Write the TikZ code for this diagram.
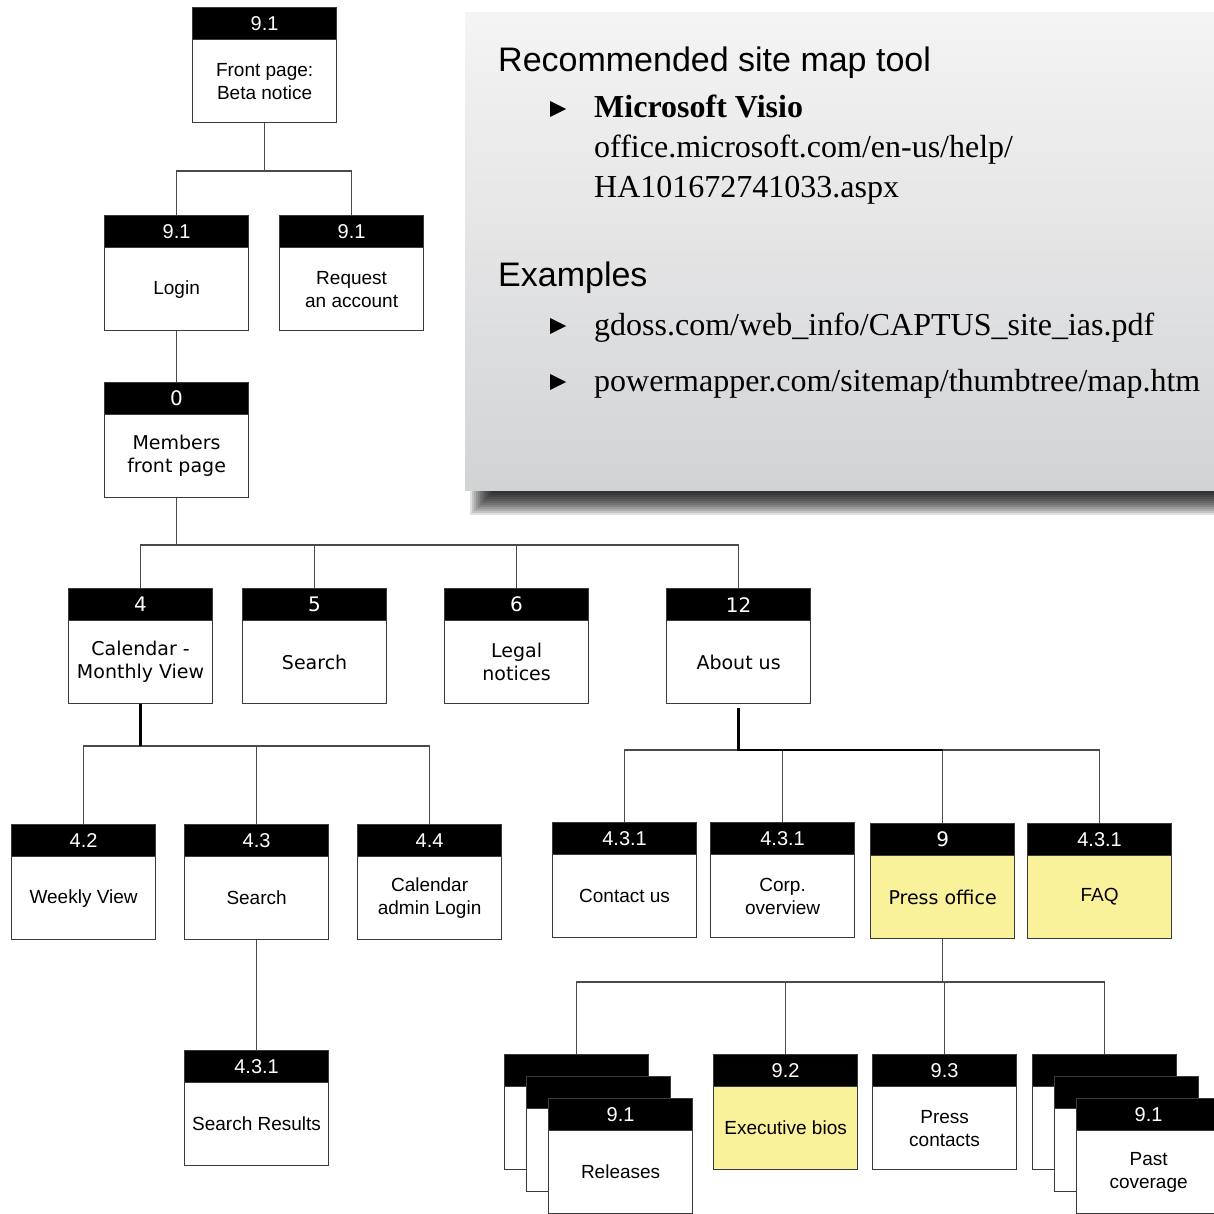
\documentclass[tikz,border=0pt]{standalone}
\usepackage{fontspec}
\setmainfont{Liberation Serif}
\newfontfamily\ari{Liberation Sans}
\newfontfamily\verd{DejaVu Sans}
\definecolor{paleyellow}{HTML}{FAF29B}
\definecolor{boxline}{HTML}{3A3A3A}
\definecolor{connline}{HTML}{4A4A4A}
\definecolor{paneltop}{HTML}{F4F4F4}
\definecolor{panelbot}{HTML}{D2D3D5}
\tikzset{
  pbody/.style={draw=boxline, line width=1.2pt, minimum width=144pt, minimum height=115pt, inner sep=0pt},
  phead/.style={draw=boxline, fill=black, line width=1.2pt, minimum width=144pt, minimum height=32pt, inner sep=0pt, text=white},
  ptext/.style={align=center, inner sep=0pt, text=black},
  conn/.style={draw=connline, line width=1.1pt},
  thickc/.style={draw=black, line width=2.6pt},
  paneltext/.style={anchor=base west, inner sep=0pt},
  bullet/.style={fill=black}
}
% name, x, y, number, text, fill, family
\newcommand{\pgbox}[7]{%
  \node[pbody, fill=#6, anchor=north west] (#1) at (#2,#3) {};
  \node[phead, anchor=north, font=#7\fontsize{20}{24}\selectfont] (#1-h) at (#1.north) {#4};
  \node[ptext, font=#7\fontsize{19}{23}\selectfont] (#1-t) at ([yshift=-16pt]#1.center) {#5};
}
\begin{document}
\begin{tikzpicture}[x=1pt,y=-1pt]
\useasboundingbox (0,0) rectangle (1214,1214);
\clip (0,0) rectangle (1214,1214);
\fill[white] (0,0) rectangle (1214,1214);

% ---------- panel with shadow ----------
\foreach \k in {0,...,11}{
  \fill[black, opacity=0.12] (470+2*\k,30+2*\k) rectangle (1252-2*\k,515-2*\k);
}
\shade[top color=paneltop, bottom color=panelbot] (465,13) rectangle (1240,490);

\node[paneltext, font=\ari\fontsize{34}{40}\selectfont] (h1) at (498,72) {Recommended site map tool};
\fill[bullet] (550,101) -- (550,117) -- (566,109) -- cycle;
\node[paneltext, font=\bfseries\fontsize{32}{40}\selectfont] (v1) at (594,118) {Microsoft Visio};
\node[paneltext, font=\fontsize{32}{40}\selectfont] (v2) at (594,158) {office.microsoft.com/en-us/help/};
\node[paneltext, font=\fontsize{32}{40}\selectfont] (v3) at (594,198) {HA101672741033.aspx};
\node[paneltext, font=\ari\fontsize{34}{40}\selectfont] (h2) at (498,287) {Examples};
\fill[bullet] (550,318) -- (550,334) -- (566,326) -- cycle;
\node[paneltext, font=\fontsize{32}{40}\selectfont] (e1) at (594,335) {gdoss.com/web\_info/CAPTUS\_site\_ias.pdf};
\fill[bullet] (550,374) -- (550,390) -- (566,382) -- cycle;
\node[paneltext, font=\fontsize{32}{40}\selectfont] (e2) at (594,391) {powermapper.com/sitemap/thumbtree/map.htm};

% ---------- boxes ----------
\pgbox{fp}{192}{7}{9.1}{Front page:\\Beta notice}{white}{\ari}
\pgbox{login}{104}{215}{9.1}{Login}{white}{\ari}
\pgbox{req}{279}{215}{9.1}{Request\\an account}{white}{\ari}
\pgbox{mem}{104}{382}{0}{Members\\front page}{white}{\verd}
\pgbox{cal}{68}{588}{4}{Calendar -\\Monthly View}{white}{\verd}
\pgbox{srch}{242}{588}{5}{Search}{white}{\verd}
\pgbox{legal}{444}{588}{6}{Legal\\notices}{white}{\verd}
\pgbox{about}{666}{588}{12}{About us}{white}{\verd}
\pgbox{weekly}{11}{824}{4.2}{Weekly View}{white}{\ari}
\pgbox{srchb}{184}{824}{4.3}{Search}{white}{\ari}
\pgbox{caladm}{357}{824}{4.4}{Calendar\\admin Login}{white}{\ari}
\pgbox{sres}{184}{1050}{4.3.1}{Search Results}{white}{\ari}
\pgbox{contact}{552}{822}{4.3.1}{Contact us}{white}{\ari}
\pgbox{corp}{710}{822}{4.3.1}{Corp.\\overview}{white}{\ari}
\pgbox{press}{870}{823}{9}{Press office}{paleyellow}{\verd}
\pgbox{faq}{1027}{823}{4.3.1}{FAQ}{paleyellow}{\ari}
\pgbox{relA}{504}{1054}{}{}{white}{\ari}
\pgbox{relB}{526}{1076}{}{}{white}{\ari}
\pgbox{rel}{548}{1098}{9.1}{Releases}{white}{\ari}
\pgbox{exec}{713}{1054}{9.2}{Executive bios}{paleyellow}{\ari}
\pgbox{pcont}{872}{1054}{9.3}{Press\\contacts}{white}{\ari}
\pgbox{pastA}{1032}{1054}{}{}{white}{\ari}
\pgbox{pastB}{1054}{1076}{}{}{white}{\ari}
\pgbox{past}{1076}{1098}{9.1}{Past\\coverage}{white}{\ari}

% ---------- connectors ----------
\coordinate (j1) at (266,171);
\draw[conn] (fp.south) -- (fp.south |- j1);
\draw[conn] (login.north) |- (req.north |- j1) -- (req.north);
\draw[conn] (login.south) -- (mem.north);

\coordinate (j2) at (0,545);
\draw[conn] (mem.south) -- (mem.south |- j2);
\draw[conn] (cal.north) |- (about.north |- j2) -- (about.north);
\draw[conn] (srch.north) -- (srch.north |- j2);
\draw[conn] (legal.north) -- (legal.north |- j2);

\coordinate (j3) at (0,746);
\draw[conn] (weekly.north) |- (caladm.north |- j3) -- (caladm.north);
\draw[conn] (srchb.north) -- (srchb.north |- j3);
\draw[thickc] (cal.south) -- (cal.south |- j3);
\draw[conn] (srchb.south) -- (sres.north);

\coordinate (j4) at (0,750);
\draw[conn] (contact.north) |- (faq.north |- j4) -- (faq.north);
\draw[conn] (corp.north) -- (corp.north |- j4);
\draw[conn] (press.north) -- (press.north |- j4);
\draw[thickc] ([yshift=-4pt]about.south) -- (about.south |- j4) -- (press.north |- j4);

\coordinate (j5) at (0,982);
\draw[conn] (press.south) -- (press.south |- j5);
\draw[conn] (relA.north) |- (pastA.north |- j5) -- (pastA.north);
\draw[conn] (exec.north) -- (exec.north |- j5);
\draw[conn] (pcont.north) -- (pcont.north |- j5);
\end{tikzpicture}
\end{document}
